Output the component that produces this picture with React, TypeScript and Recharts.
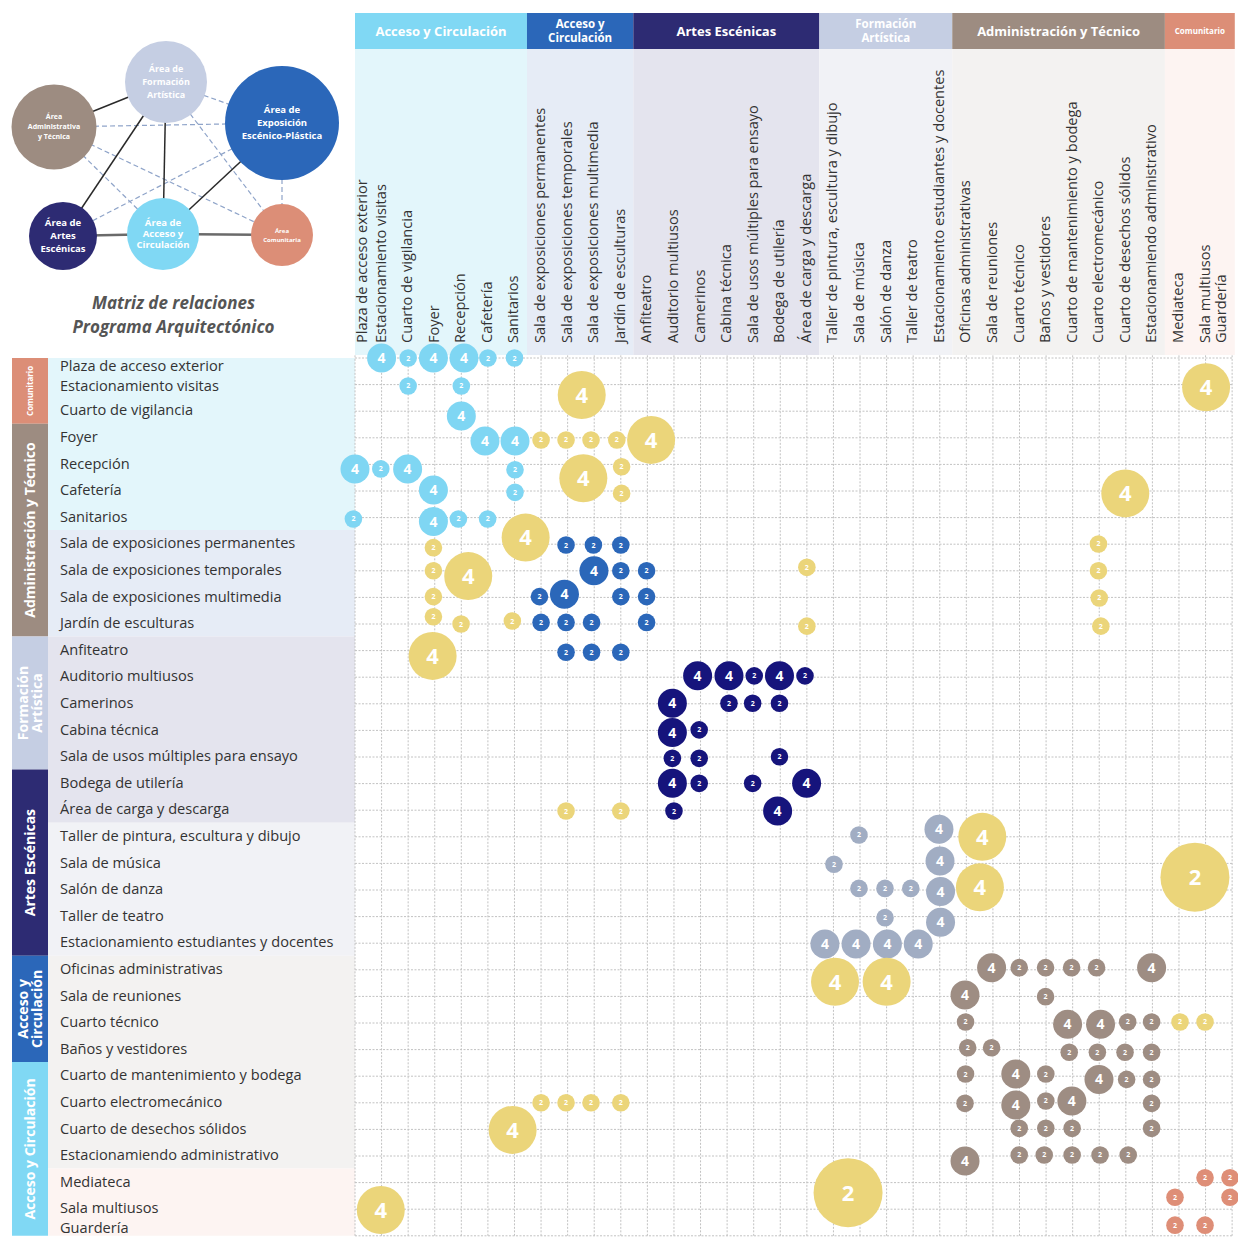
import React from "react";
import { ScatterChart, Scatter, XAxis, YAxis, ReferenceArea, ReferenceLine } from "recharts";

// espacios del programa (filas y columnas de la matriz)
const spaces = [
  "Plaza de acceso exterior",
  "Estacionamiento visitas",
  "Cuarto de vigilancia",
  "Foyer",
  "Recepción",
  "Cafetería",
  "Sanitarios",
  "Sala de exposiciones permanentes",
  "Sala de exposiciones temporales",
  "Sala de exposiciones multimedia",
  "Jardín de esculturas",
  "Anfiteatro",
  "Auditorio multiusos",
  "Camerinos",
  "Cabina técnica",
  "Sala de usos múltiples para ensayo",
  "Bodega de utilería",
  "Área de carga y descarga",
  "Taller de pintura, escultura y dibujo",
  "Sala de música",
  "Salón de danza",
  "Taller de teatro",
  "Estacionamiento estudiantes y docentes",
  "Oficinas administrativas",
  "Sala de reuniones",
  "Cuarto técnico",
  "Baños y vestidores",
  "Cuarto de mantenimiento y bodega",
  "Cuarto electromecánico",
  "Cuarto de desechos sólidos",
  "Estacionamiendo administrativo",
  "Mediateca",
  "Sala multiusos",
  "Guardería",
];

const groupNames = [
  ["Acceso y Circulación"],
  ["Acceso y", "Circulación"],
  ["Artes Escénicas"],
  ["Formación", "Artística"],
  ["Administración y Técnico"],
  ["Comunitario"],
];
const groupSizes = [7, 4, 7, 5, 8, 3];

// [columna, fila, valor, nivel]
const accesoPoints = [
  [1, 0, 4, 2], [2, 0, 2, 1], [2.95, 0, 4, 2], [4.1, 0, 4, 2], [5, 0, 2, 1], [6, 0, 2, 1],
  [2, 1.05, 2, 1], [4, 1.05, 2, 1],
  [4, 2.18, 4, 2],
  [4.89, 3.12, 4, 2], [6.02, 3.12, 4, 2],
  [0, 4.17, 4, 2], [0.97, 4.17, 2, 1], [1.98, 4.17, 4, 2], [6.02, 4.2, 2, 1],
  [2.95, 4.96, 4, 2], [6.02, 5.05, 2, 1],
  [-0.06, 6.05, 2, 1], [2.95, 6.15, 4, 2], [3.89, 6.05, 2, 1], [4.99, 6.05, 2, 1],
];
const exposicionPoints = [
  [7.94, 7.03, 2, 1], [8.97, 7.03, 2, 1], [10, 7.03, 2, 1],
  [8.99, 8, 4, 2], [10, 8, 2, 1], [10.97, 8, 2, 1],
  [6.94, 8.97, 2, 1], [7.88, 8.88, 4, 2], [10, 8.97, 2, 1], [10.97, 8.97, 2, 1],
  [7, 9.94, 2, 1], [7.94, 9.94, 2, 1], [8.9, 9.94, 2, 1], [10.97, 9.94, 2, 1],
  [7.94, 11.06, 2, 1], [8.9, 11.06, 2, 1], [10, 11.06, 2, 1],
];
const escenicasPoints = [
  [12.89, 11.95, 4, 2], [14.07, 11.95, 4, 2], [15.02, 11.95, 2, 1], [15.97, 11.95, 4, 2], [16.93, 11.95, 2, 1],
  [11.94, 12.98, 4, 2], [14.07, 12.98, 2, 1], [14.96, 12.98, 2, 1], [15.97, 12.98, 2, 1],
  [11.94, 14.08, 4, 2], [12.95, 13.98, 2, 1],
  [11.94, 15.05, 2, 1], [12.95, 15.05, 2, 1], [15.97, 14.99, 2, 1],
  [11.94, 15.99, 4, 2], [12.95, 15.99, 2, 1], [14.96, 15.99, 2, 1], [16.99, 15.99, 4, 2],
  [12, 17.03, 2, 1], [15.9, 17.03, 4, 2],
];
const formacionPoints = [
  [21.97, 17.72, 4, 2], [18.96, 17.93, 2, 1],
  [18.02, 19.03, 2, 1], [22.01, 18.91, 4, 2],
  [18.96, 19.94, 2, 1], [19.94, 19.94, 2, 1], [20.91, 19.94, 2, 1], [22.03, 20.06, 4, 2],
  [19.94, 21.04, 2, 1], [22.03, 21.21, 4, 2],
  [17.68, 22.03, 4, 2], [18.85, 22.03, 4, 2], [20.03, 22.03, 4, 2], [21.19, 22.03, 4, 2],
];
const adminPoints = [
  [23.95, 22.92, 4, 2], [24.99, 22.92, 2, 1], [25.98, 22.92, 2, 1], [26.96, 22.92, 2, 1], [27.9, 22.92, 2, 1], [29.97, 22.92, 4, 2],
  [22.95, 23.95, 4, 2], [25.98, 24.01, 2, 1],
  [22.97, 24.96, 2, 1], [26.81, 25.05, 4, 2], [28.05, 25.05, 4, 2], [29.07, 24.96, 2, 1], [29.97, 24.96, 2, 1],
  [23.05, 25.93, 2, 1], [23.95, 25.93, 2, 1], [26.87, 26.1, 2, 1], [27.93, 26.1, 2, 1], [28.97, 26.1, 2, 1], [29.97, 26.1, 2, 1],
  [22.97, 26.92, 2, 1], [24.86, 26.92, 4, 2], [25.99, 26.92, 2, 1], [27.99, 27.12, 4, 2], [29.03, 27.12, 2, 1], [29.97, 27.12, 2, 1],
  [22.95, 28.02, 2, 1], [24.86, 28.08, 4, 2], [25.99, 27.93, 2, 1], [26.97, 27.93, 4, 2], [29.97, 28.02, 2, 1],
  [24.99, 28.96, 2, 1], [25.99, 28.96, 2, 1], [26.98, 28.96, 2, 1], [29.97, 28.96, 2, 1],
  [22.95, 30.19, 4, 2], [24.99, 29.96, 2, 1], [25.93, 29.96, 2, 1], [26.98, 29.96, 2, 1], [28.03, 29.96, 2, 1], [29.09, 29.96, 2, 1],
];
const comunitarioPoints = [
  [31.98, 30.82, 2, 1], [32.92, 30.82, 2, 1], [30.85, 31.55, 2, 1], [32.92, 31.55, 2, 1], [30.85, 32.6, 2, 1], [31.98, 32.6, 2, 1],
];
// relaciones entre zonas (amarillo)
const crossPoints = [
  [7, 3.08, 2, 1], [7.94, 3.08, 2, 1], [8.88, 3.08, 2, 1], [9.85, 3.08, 2, 1],
  [10.03, 4.09, 2, 1], [10.03, 5.09, 2, 1],
  [2.95, 7.13, 2, 1], [2.95, 8, 2, 1], [2.95, 8.97, 2, 1], [2.95, 9.73, 2, 1], [3.99, 10, 2, 1], [5.92, 9.89, 2, 1],
  [17, 7.87, 2, 1], [17, 10.08, 2, 1], [7.94, 17.03, 2, 1], [10, 17.03, 2, 1],
  [27.97, 6.99, 2, 1], [27.97, 8, 2, 1], [28, 9.02, 2, 1], [28.06, 10.08, 2, 1],
  [31.04, 24.96, 2, 1], [31.98, 24.96, 2, 1],
  [7, 28, 2, 1], [7.94, 28, 2, 1], [8.88, 28, 2, 1], [10, 28, 2, 1],
  [8.53, 1.39, 4, 3], [11.14, 3.08, 4, 3], [8.59, 4.52, 4, 3], [6.42, 6.75, 4, 3], [4.26, 8.2, 4, 3], [2.92, 11.2, 4, 3],
  [32.02, 1.1, 4, 3], [28.98, 5.09, 4, 3], [23.6, 18, 4, 3], [23.51, 19.9, 4, 3],
  [18.06, 23.45, 4, 3], [20, 23.45, 4, 3], [5.93, 29.02, 4, 3], [0.97, 32.03, 4, 3],
  [31.6, 19.52, 2, 4], [18.55, 31.38, 2, 4],
];

// diagrama de zonas
const nodeNames = [
  ["Área de", "Formación", "Artística"],
  ["Área de", "Exposición", "Escénico-Plástica"],
  ["Área", "Administrativa", "y Técnica"],
  ["Área de", "Artes", "Escénicas"],
  ["Área de", "Acceso y", "Circulación"],
  ["Área", "Comunitaria"],
];
const nodeX = [166, 282, 54, 63, 163, 282];
const nodeY = [82, 123, 127, 236, 234, 235];
const nodeWeight = [41, 57, 42.5, 34, 36, 31];
const strongLinks = [[0, 2], [0, 3], [0, 4], [1, 4]];
const mainLinks = [[3, 4], [4, 5]];
const weakLinks = [[0, 1], [2, 1], [2, 4], [2, 5], [0, 5], [1, 3], [1, 5]];

const FONT = "'Open Sans', 'Noto Sans', sans-serif";
const W = 1238;
const H = 1241;
const GRID_LEFT = 355;
const GRID_TOP = 358;
const STEP_X = 26.58;
const STEP_Y = 26.6;
const ux = (px: number) => (px - GRID_LEFT) / STEP_X;
const uy = (py: number) => (py - GRID_TOP) / STEP_Y;

const headerColors = ["#80d8f4", "#2b67b9", "#2d2b73", "#c5cee3", "#9d8c81", "#dc8e77"];
const tintColors = ["#e3f6fb", "#e6ecf6", "#e4e4ee", "#f1f2f6", "#f3f2f1", "#fdf4f2"];
const bubbleColors = ["#7fd6f3", "#2b67b9", "#16147c", "#a1adc3", "#9e8d83", "#de8e77"];
const crossColor = "#ebd57a";
const nodeColors = ["#c5cee3", "#2b67b9", "#9d8c81", "#2d2b73", "#80d8f4", "#dc8e77"];
const nodeFont = [9, 9.5, 7, 9.5, 9.5, 6];
const nodeLine = [13, 13, 10, 13, 11, 9];

const RADIUS = [0, 8.8, 14.5, 24, 34.5];
const BUBBLE_FONT = [0, 7, 14, 22, 22];
const LABEL_FONT = 14.6;

const toPoints = (arr: number[][]) => arr.map(([x, y, v, w]) => ({ x, y, v, w }));

// bordes de grupo en unidades de columna/fila
const edgesFrom = (sizes: number[], end: number) => {
  const out = [0];
  let s = 0;
  sizes.forEach((n, i) => {
    s += n;
    out.push(i === sizes.length - 1 ? end : s - 0.53);
  });
  return out;
};
const colEdges = edgesFrom(groupSizes, 33.1);
const rowEdges = edgesFrom(groupSizes, 33);
const stripSizes = [...groupSizes].reverse();
const stripNames = [...groupNames].reverse();
const stripColors = [...headerColors].reverse();
const stripEdges = edgesFrom(stripSizes, 33);

const headerLabels = groupNames.map((lines, i) => ({
  x: (colEdges[i] + colEdges[i + 1]) / 2,
  y: uy(31),
  lines,
  i,
}));
const stripLabels = stripNames.map((lines, i) => ({
  x: ux(30),
  y: (stripEdges[i] + stripEdges[i + 1]) / 2,
  lines,
  i,
}));
const colLabels = spaces.map((s, i) => ({ x: i, y: uy(343), s, i }));
const rowLabels = spaces.map((s, i) => ({ x: ux(60), y: i, s, i }));

const bubbleShape = (fill: string) => (props: any) => {
  const { cx, cy, payload } = props;
  return (
    <g>
      <circle cx={cx} cy={cy} r={RADIUS[payload.w]} fill={fill} />
      <text
        x={cx}
        y={cy}
        dy="0.36em"
        textAnchor="middle"
        fill="#fff"
        fontSize={BUBBLE_FONT[payload.w]}
        fontWeight={700}
        fontFamily={FONT}
      >
        {payload.v}
      </text>
    </g>
  );
};

const HeaderText = (props: any) => {
  const { cx, cy, payload } = props;
  const fs = payload.lines[0] === "Comunitario" ? 8 : payload.lines.length > 1 ? 11.5 : 13;
  const n = payload.lines.length;
  return (
    <text textAnchor="middle" fill="#fff" fontSize={fs} fontWeight={700} fontFamily={FONT}>
      {payload.lines.map((l: string, k: number) => (
        <tspan key={k} x={cx} y={cy + (k - (n - 1) / 2) * 14} dy="0.35em">
          {l}
        </tspan>
      ))}
    </text>
  );
};

const StripText = (props: any) => {
  const { cx, cy, payload } = props;
  const fs = payload.lines[0] === "Comunitario" ? 8 : 14;
  const n = payload.lines.length;
  return (
    <text
      transform={`translate(${cx},${cy}) rotate(-90)`}
      textAnchor="middle"
      fill="#fff"
      fontSize={fs}
      fontWeight={700}
      fontFamily={FONT}
    >
      {payload.lines.map((l: string, k: number) => (
        <tspan key={k} x={0} y={(k - (n - 1) / 2) * 14} dy="0.35em">
          {l}
        </tspan>
      ))}
    </text>
  );
};

const ColText = (props: any) => {
  const { cx, cy, payload } = props;
  const bx = Math.min(Math.max(cx + 4, 367), 1226);
  return (
    <text transform={`translate(${bx},${cy}) rotate(-90)`} fontSize={LABEL_FONT} fill="#333" fontFamily={FONT}>
      {payload.s}
    </text>
  );
};

const RowText = (props: any) => {
  const { cx, cy, payload } = props;
  // primera fila algo separada, la última pegada al borde inferior
  const ty = Math.min(Math.max(cy - 1, 366 + 20 * payload.i), 1228);
  return (
    <text x={cx} y={ty} dy="0.35em" fontSize={LABEL_FONT} fill="#333" fontFamily={FONT}>
      {payload.s}
    </text>
  );
};

const NodeShape = (props: any) => {
  const { cx, cy, payload } = props;
  const i = payload.i;
  const n = payload.lines.length;
  return (
    <g>
      <circle cx={cx} cy={cy} r={nodeWeight[i]} fill={nodeColors[i]} />
      <text textAnchor="middle" fill="#fff" fontSize={nodeFont[i]} fontWeight={700} fontFamily={FONT}>
        {payload.lines.map((l: string, k: number) => (
          <tspan key={k} x={cx} y={cy + (k - (n - 1) / 2) * nodeLine[i]} dy="0.35em">
            {l}
          </tspan>
        ))}
      </text>
    </g>
  );
};

const ticks = spaces.map((_, i) => i);

function ZoneDiagram() {
  const nodes = nodeNames.map((lines, i) => ({ x: nodeX[i], y: nodeY[i], lines, i }));
  const seg = ([a, b]: number[]) => [
    { x: nodeX[a], y: nodeY[a] },
    { x: nodeX[b], y: nodeY[b] },
  ];
  return (
    <div style={{ position: "absolute", left: 0, top: 0, width: 350, height: 345 }}>
      <ScatterChart width={350} height={280} margin={{ top: 0, right: 0, bottom: 0, left: 0 }}>
        <XAxis type="number" dataKey="x" domain={[0, 350]} hide />
        <YAxis type="number" dataKey="y" domain={[0, 280]} reversed hide />
        {weakLinks.map((l, k) => (
          <ReferenceLine key={"w" + k} segment={seg(l)} stroke="#8fa4c9" strokeWidth={1.2} strokeDasharray="5 3" ifOverflow="visible" />
        ))}
        {strongLinks.map((l, k) => (
          <ReferenceLine key={"s" + k} segment={seg(l)} stroke="#2a2a2a" strokeWidth={1.5} ifOverflow="visible" />
        ))}
        {mainLinks.map((l, k) => (
          <ReferenceLine key={"m" + k} segment={seg(l)} stroke="#6a6a6a" strokeWidth={2.5} ifOverflow="visible" />
        ))}
        <Scatter data={nodes} shape={NodeShape} isAnimationActive={false} />
      </ScatterChart>
      <div
        style={{
          position: "absolute",
          left: 0,
          top: 291,
          width: 347,
          textAlign: "center",
          fontFamily: FONT,
          fontWeight: 700,
          fontStyle: "italic",
          fontSize: 17,
          lineHeight: "24px",
          color: "#555",
        }}
      >
        Matriz de relaciones
        <br />
        Programa Arquitectónico
      </div>
    </div>
  );
}

function Matrix() {
  const sets = [accesoPoints, exposicionPoints, escenicasPoints, formacionPoints, adminPoints, comunitarioPoints];
  return (
    <div style={{ position: "absolute", left: 0, top: 0, width: W, height: H }}>
      <ScatterChart width={W} height={H} margin={{ top: 0, right: 0, bottom: 0, left: 0 }}>
        <XAxis type="number" dataKey="x" domain={[ux(0), ux(W)]} allowDataOverflow hide />
        <YAxis type="number" dataKey="y" domain={[uy(0), uy(H)]} allowDataOverflow reversed hide />
        {groupSizes.map((_, i) => (
          <ReferenceArea key={"ht" + i} x1={colEdges[i]} x2={colEdges[i + 1]} y1={uy(49)} y2={uy(355)} fill={tintColors[i]} fillOpacity={1} stroke="none" ifOverflow="visible" />
        ))}
        {groupSizes.map((_, i) => (
          <ReferenceArea key={"hb" + i} x1={colEdges[i]} x2={colEdges[i + 1]} y1={uy(13)} y2={uy(49)} fill={headerColors[i]} fillOpacity={1} stroke="none" ifOverflow="visible" />
        ))}
        {groupSizes.map((_, i) => (
          <ReferenceArea key={"rt" + i} x1={ux(48)} x2={0} y1={rowEdges[i]} y2={rowEdges[i + 1]} fill={tintColors[i]} fillOpacity={1} stroke="none" ifOverflow="visible" />
        ))}
        {stripSizes.map((_, i) => (
          <ReferenceArea key={"st" + i} x1={ux(12)} x2={ux(48)} y1={stripEdges[i]} y2={stripEdges[i + 1]} fill={stripColors[i]} fillOpacity={1} stroke="none" ifOverflow="visible" />
        ))}
        {ticks.map((i) => (
          <ReferenceLine key={"gv" + i} segment={[{ x: i, y: -0.1 }, { x: i, y: 33 }]} stroke="#c2c2c2" strokeDasharray="2 1.5" ifOverflow="visible" />
        ))}
        {ticks.map((i) => (
          <ReferenceLine key={"gh" + i} segment={[{ x: 0, y: i }, { x: 33, y: i }]} stroke="#c2c2c2" strokeDasharray="2 1.5" ifOverflow="visible" />
        ))}
        <Scatter data={headerLabels} shape={HeaderText} isAnimationActive={false} />
        <Scatter data={stripLabels} shape={StripText} isAnimationActive={false} />
        <Scatter data={colLabels} shape={ColText} isAnimationActive={false} />
        <Scatter data={rowLabels} shape={RowText} isAnimationActive={false} />
        {sets.map((s, i) => (
          <Scatter key={"b" + i} data={toPoints(s)} shape={bubbleShape(bubbleColors[i])} isAnimationActive={false} />
        ))}
        <Scatter data={toPoints(crossPoints)} shape={bubbleShape(crossColor)} isAnimationActive={false} />
      </ScatterChart>
    </div>
  );
}

export default function App() {
  return (
    <div style={{ position: "absolute", left: 0, top: 0, width: W, height: H, background: "#fff" }}>
      <Matrix />
      <ZoneDiagram />
    </div>
  );
}
